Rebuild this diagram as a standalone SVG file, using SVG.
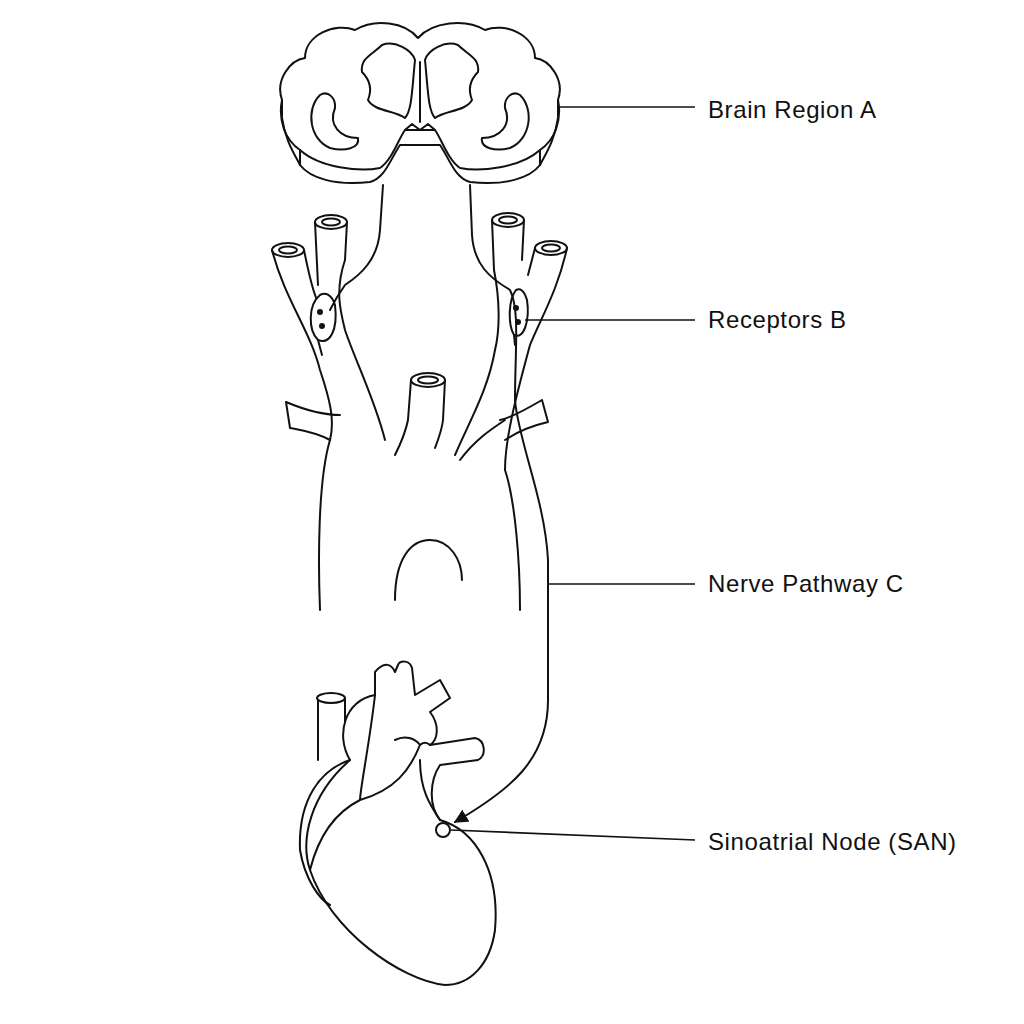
<svg xmlns="http://www.w3.org/2000/svg" width="1024" height="1024" viewBox="0 0 1024 1024">
<style>
.s{fill:none;stroke:#111;stroke-width:2;stroke-linecap:round;stroke-linejoin:round}
.w{fill:#fff;stroke:#111;stroke-width:2;stroke-linejoin:round}
.l{stroke:#111;stroke-width:1.6}
text{font-family:"Liberation Sans",Arial,sans-serif;font-size:24px;letter-spacing:0.6px;fill:#111}
</style>
<defs><marker id="ah" viewBox="0 0 10 10" refX="9" refY="5" markerWidth="7" markerHeight="7" orient="auto"><path d="M0,0L10,5L0,10z" fill="#111"/></marker></defs>
<rect width="1024" height="1024" fill="#fff"/>
<g id="brain">
<path class="w" d="M300,150 C285,140 278,120 282,100 C275,80 290,60 305,58 C305,35 335,22 355,30 C375,18 405,22 418,38 C432,22 465,18 485,30 C505,22 535,35 535,58 C550,60 565,80 558,100 C562,120 555,140 540,150 L540,165 C530,178 505,186 470,182 C455,178 450,160 440,145 L400,145 C390,160 385,178 370,182 C335,186 310,178 300,165 Z"/>
<path class="s" d="M282,100 L282,118 C285,140 295,155 300,165 M558,100 L558,118 C555,140 545,155 540,165"/>
<path class="s" d="M300,150 C320,168 360,172 380,168 C392,160 398,140 405,130 L435,130 C442,140 448,160 460,168 C480,172 520,168 540,150"/>
<path class="s" d="M405,130 L412,124 L420,130 L428,124 L435,130"/>
<path class="s" d="M382,45 C372,55 360,58 362,72 C370,80 372,90 368,100 C375,112 395,110 405,118 C412,110 412,90 415,60 C412,50 395,40 382,45 Z"/>
<path class="s" d="M458,45 C468,55 480,58 478,72 C470,80 468,90 472,100 C465,112 445,110 435,118 C428,110 428,90 425,60 C428,50 445,40 458,45 Z"/>
<path class="s" d="M420,62 L420,122"/>
<path class="s" d="M320,95 C305,110 310,140 330,148 C345,152 360,148 358,138 C340,138 328,125 335,108 C336,98 328,90 320,95 Z"/>
<path class="s" d="M520,95 C535,110 530,140 510,148 C495,152 480,148 482,138 C500,138 512,125 505,108 C504,98 512,90 520,95 Z"/>
</g>
<g id="vessels">
<ellipse class="w" cx="288" cy="250" rx="16" ry="7"/>
<ellipse class="w" cx="331" cy="222" rx="16" ry="7"/>
<ellipse class="w" cx="508" cy="220" rx="16" ry="7"/>
<ellipse class="w" cx="551" cy="248" rx="16" ry="7"/>
<ellipse class="s" cx="288" cy="250" rx="9" ry="3.5"/>
<ellipse class="s" cx="331" cy="222" rx="9" ry="3.5"/>
<ellipse class="s" cx="508" cy="220" rx="9" ry="3.5"/>
<ellipse class="s" cx="551" cy="248" rx="9" ry="3.5"/>
<path class="s" d="M272,250 C285,300 310,330 320,370 C330,400 335,420 330,440 C318,480 318,560 320,610"/>
<path class="s" d="M304,250 C310,280 315,300 320,305 M315,222 L318,285 M347,222 L345,260 C335,290 340,310 345,330 C355,360 375,400 385,440"/>
<path class="s" d="M492,220 L494,270 C500,300 500,330 495,350 C488,390 470,420 455,455 M524,220 L522,260 M535,248 L528,275 M567,248 C558,290 540,320 530,345 C515,400 505,440 505,470 C515,500 520,560 520,610"/>
<path class="s" d="M330,440 C315,432 300,430 290,428 L286,402 C305,410 325,415 340,415"/>
<path class="s" d="M505,440 C520,430 535,425 548,422 L542,400 C525,410 510,418 500,420"/>
<ellipse class="w" cx="428" cy="380" rx="17" ry="7"/>
<ellipse class="s" cx="428" cy="380" rx="10" ry="3.5"/>
<path class="s" d="M411,380 L408,420 C405,435 400,445 395,455 M445,380 L443,420 C442,430 438,440 435,448"/>
<path class="s" d="M395,600 C395,560 410,540 430,540 C450,540 462,560 462,580"/>
<path class="s" d="M460,460 C475,440 490,430 505,420"/>
</g>
<g id="receptors">
<path class="w" d="M320,295 C308,305 308,330 318,340 C330,345 338,330 335,305 C332,295 326,292 320,295 Z"/>
<circle cx="320" cy="312" r="3" fill="#111"/><circle cx="322" cy="326" r="3" fill="#111"/>
<path class="w" d="M516,290 C508,300 508,325 514,335 C524,340 530,320 527,300 C524,290 520,288 516,290 Z"/>
<circle cx="516" cy="308" r="3" fill="#111"/><circle cx="518" cy="322" r="3" fill="#111"/>
<path class="s" d="M318,340 L322,355 M514,335 L515,345"/>
</g>
<g id="heart">
<path class="s" d="M318,698 L318,760 M345,698 L345,745"/>
<ellipse class="w" cx="331" cy="698" rx="14" ry="5"/>
<path class="w" d="M350,760 C335,735 345,700 375,695 L375,672 C385,660 392,665 395,672 L398,665 C400,660 410,660 412,668 L415,695 L440,680 L450,698 L430,712 C440,725 438,740 430,745 L475,738 C485,740 487,755 478,760 L440,765 C430,780 428,805 440,820 C475,830 500,870 495,930 C490,965 470,985 445,985 C400,980 330,930 310,870 C300,840 310,795 350,760 Z"/>
<path class="s" d="M350,760 C320,770 298,800 300,850 C305,880 320,900 330,905 M360,800 C340,810 320,830 310,870 M375,695 C370,740 360,790 360,800 C395,790 410,770 420,745 C425,740 430,745 430,745 M395,740 C405,735 415,738 420,745 M420,760 C420,790 430,805 440,820"/>
<circle class="w" cx="443" cy="830" r="7"/>
</g>
<g id="connectors">
<path class="s" d="M383,185 L380,230 C378,260 360,275 345,285 C340,292 335,300 330,310"/>
<path class="s" d="M470,185 L472,235 C474,265 490,278 510,290 C520,310 515,350 515,400 C518,440 545,500 548,560 L548,700 C548,760 510,790 455,822" marker-end="url(#ah)"/>
<line class="l" x1="560" y1="107" x2="695" y2="107"/>
<line class="l" x1="525" y1="320" x2="695" y2="320"/>
<line class="l" x1="548" y1="584" x2="695" y2="584"/>
<line class="l" x1="451" y1="830" x2="695" y2="840"/>
</g>
<text x="708" y="118">Brain Region A</text>
<text x="708" y="328">Receptors B</text>
<text x="708" y="592">Nerve Pathway C</text>
<text x="708" y="850">Sinoatrial Node (SAN)</text>
</svg>
